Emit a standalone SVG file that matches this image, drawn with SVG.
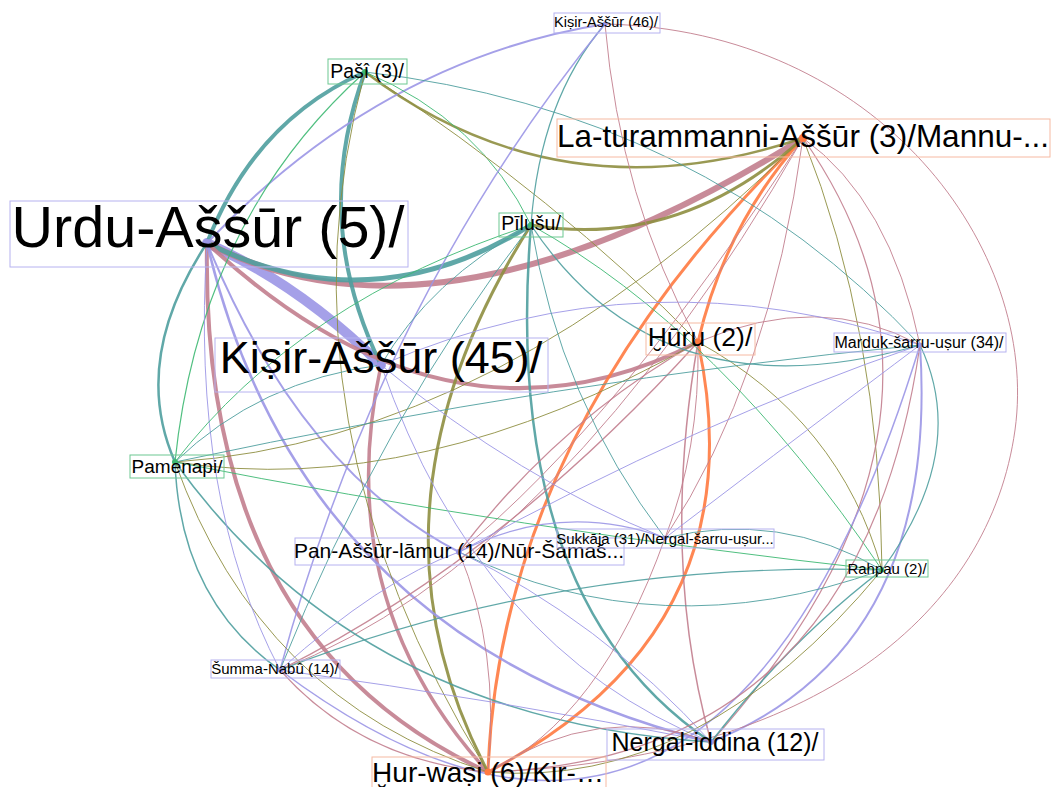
<svg xmlns="http://www.w3.org/2000/svg" width="1051" height="787" viewBox="0 0 1051 787">
<style>
  .e{fill:none;stroke-linecap:round;stroke-opacity:.9}
  .lav{stroke:#9b96e6} .mau{stroke:#c27e8e} .tea{stroke:#4f9e9e}
  .oli{stroke:#8e8e40} .ora{stroke:#ff7a40} .grn{stroke:#3db872}
  .box{fill:none;stroke-width:1}
  .bl{stroke:#b6b2f0} .bo{stroke:#f6b9a2} .bg{stroke:#6cc891}
  .dl{fill:#9b96e6} .do{fill:#ff7a40} .dg{fill:#3db872}
  text{font-family:"Liberation Sans",Arial,sans-serif;fill:#000;text-anchor:middle}
</style>
<rect width="1051" height="787" fill="#fff"/>
<g id="edges">
  <!-- heavy links -->
  <path class="e lav" stroke-width="10" d="M207 243 Q300 285 381 365"/>
  <path class="e mau" stroke-width="6" d="M207 243 Q440 365 803 138"/>
  <path class="e tea" stroke-width="5" d="M207 243 Q370 325 531 225"/>
  <path class="e tea" stroke-width="4" d="M207 243 Q255 120 365 72"/>
  <path class="e tea" stroke-width="4" d="M365 72 Q310 220 381 365"/>
  <path class="e mau" stroke-width="4" d="M207 243 Q450 470 698 342"/>
  <path class="e mau" stroke-width="4" d="M207 243 Q200 640 488 772"/>
  <path class="e mau" stroke-width="3.5" d="M381 365 Q330 600 488 772"/>
  <path class="e ora" stroke-width="3" d="M803 138 Q500 430 488 772"/>
  <path class="e ora" stroke-width="3" d="M698 342 Q760 630 488 772"/>
  <path class="e ora" stroke-width="3" d="M803 138 Q725 225 698 342"/>
  <path class="e oli" stroke-width="3" d="M531 225 Q350 510 488 772"/>
  <path class="e oli" stroke-width="3" d="M531 225 Q680 250 803 138"/>
  <path class="e oli" stroke-width="2.5" d="M365 72 Q560 220 803 138"/>
  <path class="e tea" stroke-width="2.5" d="M531 225 Q500 600 711 742"/>
  <path class="e lav" stroke-width="2.5" d="M207 243 Q300 640 711 742"/>
  <path class="e tea" stroke-width="2.5" d="M207 243 Q130 360 175 462"/>
  <path class="e lav" stroke-width="2" d="M207 243 Q300 470 459 552"/>
  <path class="e lav" stroke-width="2" d="M207 243 Q380 60 605 24"/>
  <path class="e lav" stroke-width="2" d="M920 345 Q940 650 711 742"/>
  <!-- light links -->
  <path class="e grn" stroke-width="1.2" d="M365 72 Q200 220 175 462"/>
  <path class="e grn" stroke-width="1" d="M365 72 Q480 120 531 225"/>
  <path class="e oli" stroke-width="1" d="M365 72 Q560 200 698 342"/>
  <path class="e oli" stroke-width="1" d="M365 72 Q270 420 488 772"/>
  <path class="e tea" stroke-width="1" d="M365 72 Q700 110 920 345"/>
  <path class="e tea" stroke-width="1.2" d="M605 24 Q540 100 531 225"/>
  <path class="e lav" stroke-width="1.5" d="M605 24 Q380 300 280 670"/>
  <path class="e mau" stroke-width="1" d="M605 24 Q620 200 698 342"/>
  <path class="e mau" stroke-width="1" d="M605 24 C880 30 1040 250 1015 430 S820 760 488 772"/>
  <path class="e mau" stroke-width="1" d="M803 138 Q890 200 920 345"/>
  <path class="e mau" stroke-width="1" d="M803 138 Q770 380 665 538"/>
  <path class="e oli" stroke-width="1" d="M803 138 Q880 330 882 570"/>
  <path class="e mau" stroke-width="1" d="M803 138 Q560 560 280 670"/>
  <path class="e mau" stroke-width="1" d="M803 138 Q620 420 459 552"/>
  <path class="e oli" stroke-width="1" d="M803 138 Q500 440 175 462"/>
  <path class="e mau" stroke-width="1.2" d="M803 138 Q1000 420 711 742"/>
  <path class="e mau" stroke-width="1.5" d="M698 342 Q660 560 711 742"/>
  <path class="e mau" stroke-width="1.3" d="M698 342 Q500 560 280 670"/>
  <path class="e mau" stroke-width="1.3" d="M698 342 Q560 420 459 552"/>
  <path class="e oli" stroke-width="1" d="M698 342 Q420 500 175 462"/>
  <path class="e oli" stroke-width="1" d="M698 342 Q840 420 882 570"/>
  <path class="e mau" stroke-width="1" d="M698 342 Q820 290 920 345"/>
  <path class="e mau" stroke-width="1" d="M698 342 Q700 450 665 538"/>
  <path class="e lav" stroke-width="1.5" d="M920 345 Q720 1000 280 670"/>
  <path class="e tea" stroke-width="1.5" d="M882 570 Q790 640 711 742"/>
  <path class="e tea" stroke-width="1.2" d="M882 570 Q560 560 280 670"/>
  <path class="e grn" stroke-width="1" d="M882 570 Q720 330 531 225"/>
  <path class="e tea" stroke-width="1.2" d="M882 570 Q970 450 920 345"/>
  <path class="e tea" stroke-width="1" d="M882 570 Q780 510 665 538"/>
  <path class="e tea" stroke-width="1" d="M882 570 Q660 650 459 552"/>
  <path class="e grn" stroke-width="1" d="M882 570 Q520 530 175 462"/>
  <path class="e tea" stroke-width="1.5" d="M175 462 Q360 720 711 742"/>
  <path class="e mau" stroke-width="1" d="M488 772 Q600 700 711 742"/>
  <path class="e lav" stroke-width="1" d="M381 365 Q480 650 711 742"/>
  <path class="e lav" stroke-width="1" d="M459 552 Q600 620 711 742"/>
  <path class="e lav" stroke-width="1" d="M280 670 Q500 700 711 742"/>
  <path class="e mau" stroke-width="1.2" d="M280 670 Q360 760 488 772"/>
  <path class="e oli" stroke-width="1" d="M175 462 Q260 700 488 772"/>
  <path class="e mau" stroke-width="1" d="M459 552 Q500 650 488 772"/>
  <path class="e mau" stroke-width="1.2" d="M920 345 Q860 760 488 772"/>
  <path class="e mau" stroke-width="1" d="M665 538 Q600 720 488 772"/>
  <path class="e oli" stroke-width="1" d="M882 570 Q700 790 488 772"/>
  <path class="e tea" stroke-width="1.5" d="M175 462 Q180 600 280 670"/>
  <path class="e lav" stroke-width="1" d="M207 243 Q190 500 280 670"/>
  <path class="e lav" stroke-width="1" d="M280 670 Q380 580 459 552"/>
  <path class="e grn" stroke-width="1" d="M175 462 Q300 300 531 225"/>
  <path class="e tea" stroke-width="1" d="M175 462 Q260 380 381 365"/>
  <path class="e tea" stroke-width="1" d="M175 462 Q560 380 920 345"/>
  <path class="e lav" stroke-width="1.3" d="M459 552 Q560 500 665 538"/>
  <path class="e lav" stroke-width="1" d="M459 552 Q700 420 920 345"/>
  <path class="e lav" stroke-width="1" d="M381 365 Q520 480 665 538"/>
  <path class="e lav" stroke-width="1" d="M665 538 Q820 420 920 345"/>
  <path class="e lav" stroke-width="1" d="M381 365 Q650 250 920 345"/>
  <path class="e tea" stroke-width="1.3" d="M531 225 Q660 420 920 345"/>
  <path class="e tea" stroke-width="1" d="M531 225 Q380 420 280 670"/>
  <path class="e tea" stroke-width="1" d="M531 225 Q560 400 665 538"/>
  <path class="e tea" stroke-width="1" d="M381 365 Q430 280 531 225"/>
</g>
<g id="node-urdu-assur">
  <circle class="dl" cx="207" cy="243" r="4"/>
  <rect class="box bl" x="10" y="201" width="398" height="66"/>
  <text x="208" y="247" font-size="57.5">Urdu-Aššūr (5)/</text>
</g>
<g id="node-la-turammanni">
  <circle class="do" cx="803" cy="138" r="4"/>
  <rect class="box bo" x="557" y="119" width="493" height="38"/>
  <text x="803" y="147" font-size="31.5">La-turammanni-Aššūr (3)/Mannu-...</text>
</g>
<g id="node-kisir-45">
  <circle class="dl" cx="381" cy="365" r="4"/>
  <rect class="box bl" x="215" y="338" width="333" height="54"/>
  <text x="381" y="373" font-size="45">Kiṣir-Aššūr (45)/</text>
</g>
<g id="node-kisir-46">
  <circle class="dl" cx="605" cy="24" r="2.5"/>
  <rect class="box bl" x="554" y="13" width="106" height="20"/>
  <text x="606" y="27" font-size="14.5">Kiṣir-Aššūr (46)/</text>
</g>
<g id="node-pasi">
  <circle class="dg" cx="365" cy="72" r="3"/>
  <rect class="box bg" x="328" y="59" width="79" height="25"/>
  <text x="367" y="78" font-size="19.5">Pašî (3)/</text>
</g>
<g id="node-pilusu">
  <circle class="dg" cx="531" cy="225" r="3"/>
  <rect class="box bg" x="499" y="213" width="64" height="24"/>
  <text x="531" y="230" font-size="19.5">Pīlušu/</text>
</g>
<g id="node-huru">
  <circle class="do" cx="698" cy="342" r="3.5"/>
  <rect class="box bo" x="646" y="323" width="109" height="32"/>
  <text x="700" y="346" font-size="26.5">Ḫūru (2)/</text>
</g>
<g id="node-marduk">
  <circle class="dl" cx="920" cy="345" r="2.5"/>
  <rect class="box bl" x="834" y="333" width="172" height="19"/>
  <text x="919" y="348" font-size="16">Marduk-šarru-uṣur (34)/</text>
</g>
<g id="node-pamenapi">
  <circle class="dg" cx="175" cy="462" r="3"/>
  <rect class="box bg" x="130" y="455" width="94" height="23"/>
  <text x="177" y="473" font-size="19">Pamenapi/</text>
</g>
<g id="node-pan-assur">
  <circle class="dl" cx="459" cy="552" r="3"/>
  <rect class="box bl" x="295" y="538" width="329" height="27"/>
  <text x="459" y="558" font-size="21">Pan-Aššūr-lāmur (14)/Nūr-Šamaš...</text>
</g>
<g id="node-sukkaja">
  <circle class="dl" cx="665" cy="538" r="2.5"/>
  <rect class="box bl" x="557" y="529" width="217" height="19"/>
  <text x="665" y="544" font-size="15">Sukkāja (31)/Nergal-šarru-uṣur...</text>
</g>
<g id="node-rahpau">
  <circle class="dg" cx="882" cy="570" r="2.5"/>
  <rect class="box bg" x="846" y="560" width="82" height="17"/>
  <text x="887" y="574" font-size="15">Rahpau (2)/</text>
</g>
<g id="node-summa-nabu">
  <circle class="dl" cx="280" cy="670" r="2.5"/>
  <rect class="box bl" x="211" y="660" width="129" height="18"/>
  <text x="275" y="674" font-size="15">Šumma-Nabû (14)/</text>
</g>
<g id="node-nergal-iddina">
  <circle class="dl" cx="711" cy="742" r="3"/>
  <rect class="box bl" x="607" y="729" width="217" height="31"/>
  <text x="715" y="751" font-size="25">Nergal-iddina (12)/</text>
</g>
<g id="node-hur-wasi">
  <circle class="do" cx="488" cy="772" r="3.5"/>
  <rect class="box bo" x="372" y="757" width="234" height="34"/>
  <text x="488" y="782" font-size="28">Ḫur-waṣi (6)/Kir-…</text>
</g>
</svg>
